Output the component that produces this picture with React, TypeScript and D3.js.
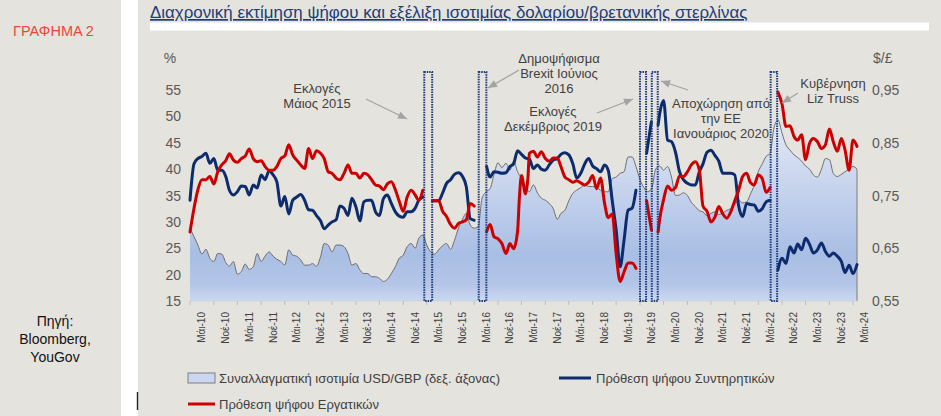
import * as d3 from "d3";

type Pt = [string, number | null];

// Πρόθεση ψήφου Συντηρητικών (%), null = break at an event box
const conservatives: Pt[] = [
  ["2010-05", 34.1], ["2010-06", 41], ["2010-07", 42], ["2010-08", 42.4], ["2010-09", 43], ["2010-10", 41.1], ["2010-11", 42], ["2010-12", 39.8],
  ["2011-01", 39.8], ["2011-02", 38.6], ["2011-03", 36], ["2011-04", 35.1], ["2011-05", 35.7], ["2011-06", 36.8], ["2011-07", 36.7], ["2011-08", 35.1], ["2011-09", 37], ["2011-10", 36.4], ["2011-11", 38.9], ["2011-12", 38],
  ["2012-01", 39.7], ["2012-02", 38.9], ["2012-03", 37.6], ["2012-04", 33], ["2012-05", 34.8], ["2012-06", 31.5], ["2012-07", 34.1], ["2012-08", 34.7], ["2012-09", 35.2], ["2012-10", 34.1], ["2012-11", 32.3], ["2012-12", 32.2],
  ["2013-01", 31.2], ["2013-02", 30.2], ["2013-03", 28.7], ["2013-04", 29.4], ["2013-05", 30], ["2013-06", 30.4], ["2013-07", 33], ["2013-08", 32.6], ["2013-09", 31.2], ["2013-10", 34.5], ["2013-11", 32.8], ["2013-12", 30.2],
  ["2014-01", 33.8], ["2014-02", 34.1], ["2014-03", 34.1], ["2014-04", 31.9], ["2014-05", 31.2], ["2014-06", 34.4], ["2014-07", 35.1], ["2014-08", 33.5], ["2014-09", 31.9], ["2014-10", 31.1], ["2014-11", 30.9], ["2014-12", 31.9],
  ["2015-01", 31.9], ["2015-02", 32.6], ["2015-03", 34.1], ["2015-04", 34.7], ["2015-05", null],
  ["2015-06-15", 34], ["2015-07", 34], ["2015-08", 34], ["2015-09", 35.5], ["2015-10", 37.3], ["2015-11", 38], ["2015-12", 39],
  ["2016-01", 39.3], ["2016-02", 38.6], ["2016-03", 36.7], ["2016-04", 30.6], ["2016-05", 30.3], ["2016-07", null],
  ["2016-08-05", 40.5], ["2016-09", 38.5], ["2016-10", 39.5], ["2016-11", 39.4], ["2016-12", 39.2],
  ["2017-01", 39.3], ["2017-02", 40.5], ["2017-03", 41], ["2017-04", 43.5], ["2017-05", 42.8], ["2017-06", 42.1], ["2017-07", 41.9], ["2017-08", 40.1], ["2017-09", 40.8], ["2017-10", 40], ["2017-11", 39.8], ["2017-12", 40.8],
  ["2018-01", 41.7], ["2018-02", 42], ["2018-03", 42.8], ["2018-04", 43.1], ["2018-05", 42.7], ["2018-06", 41], ["2018-07", 38.3], ["2018-08", 39.2], ["2018-09", 41], ["2018-10", 42], ["2018-11", 40.6], ["2018-12", 40.1],
  ["2019-01", 39.5], ["2019-02", 40.8], ["2019-03", 39.8], ["2019-04", 34], ["2019-05", 28.5], ["2019-06", 21.5], ["2019-07", 26.5], ["2019-08", 32.2], ["2019-09", 32.6], ["2019-10", 36], ["2019-11", null],
  ["2019-12-22", 43], ["2020-01-28", 49], ["2020-02", null],
  ["2020-03-20", 48.4], ["2020-04", 50.5], ["2020-05", 53], ["2020-06", 45.5], ["2020-07", 45.2], ["2020-08", 43.2], ["2020-09", 39.5], ["2020-10", 38], ["2020-11", 37.3], ["2020-12", 37],
  ["2021-01", 37], ["2021-02", 39.5], ["2021-03", 41], ["2021-04", 43.2], ["2021-05", 43.6], ["2021-06", 42.6], ["2021-07", 41.5], ["2021-08", 39.2], ["2021-09", 39.2], ["2021-10", 39.2], ["2021-11", 38.9], ["2021-12", 33],
  ["2022-01", 31], ["2022-02", 33.5], ["2022-03", 33.3], ["2022-04", 33.2], ["2022-05", 32], ["2022-06", 32.5], ["2022-07", 33.8], ["2022-08", 34.1], ["2022-09", null],
  ["2022-09-30", 20.9], ["2022-11", 23.1], ["2022-12", 22.1],
  ["2023-01", 25.3], ["2023-02", 24.1], ["2023-03", 25.8], ["2023-04", 24.7], ["2023-05", 26.9], ["2023-06", 25.7], ["2023-07", 24.1], ["2023-08", 24.7], ["2023-09", 26], ["2023-10", 24.4], ["2023-11", 23.5], ["2023-12", 24.1],
  ["2024-01", 23.5], ["2024-02", 22.5], ["2024-03", 20.4], ["2024-04", 21.8], ["2024-05", 20.2], ["2024-06", 21.9],
];

// Πρόθεση ψήφου Εργατικών (%)
const labour: Pt[] = [
  ["2010-05", 28.1], ["2010-06", 32.6], ["2010-07", 36.1], ["2010-08", 38], ["2010-09", 38], ["2010-10", 38.6], ["2010-11", 37.2], ["2010-12", 39.5],
  ["2011-01", 40.8], ["2011-02", 41.6], ["2011-03", 42.9], ["2011-04", 41.7], ["2011-05", 41.3], ["2011-06", 42], ["2011-07", 42.5], ["2011-08", 43.8], ["2011-09", 42], ["2011-10", 41.4], ["2011-11", 41.6], ["2011-12", 40.5],
  ["2012-01", 39.8], ["2012-02", 39.8], ["2012-03", 40.5], ["2012-04", 42], ["2012-05", 42.5], ["2012-06", 44.6], ["2012-07", 42.7], ["2012-08", 41.7], ["2012-09", 40.8], ["2012-10", 40.1], ["2012-11", 43.9], ["2012-12", 42],
  ["2013-01", 43.5], ["2013-02", 43], ["2013-03", 42], ["2013-04", 39.5], ["2013-05", 39.2], ["2013-06", 38.3], ["2013-07", 38], ["2013-08", 39.2], ["2013-09", 40.8], ["2013-10", 39.2], ["2013-11", 39.2], ["2013-12", 38.3],
  ["2014-01", 39.2], ["2014-02", 38.9], ["2014-03", 38], ["2014-04", 37], ["2014-05", 36.8], ["2014-06", 36.1], ["2014-07", 37.2], ["2014-08", 37.6], ["2014-09", 36.1], ["2014-10", 33.9], ["2014-11", 32], ["2014-12", 34.7],
  ["2015-01", 36], ["2015-02", 35.1], ["2015-03", 34.1], ["2015-04", 36], ["2015-05", null],
  ["2015-06-15", 34], ["2015-07", 34], ["2015-08", 34], ["2015-09", 32], ["2015-10", 31], ["2015-11", 29.5], ["2015-12", 28.8],
  ["2016-01", 29.7], ["2016-02", 30], ["2016-03", 30.4], ["2016-04", 33.5], ["2016-05", 33], ["2016-07", null],
  ["2016-08-05", 28.1], ["2016-09", 29.5], ["2016-10", 27.2], ["2016-11", 26.8], ["2016-12", 25.9],
  ["2017-01", 24], ["2017-02", 25.9], ["2017-03", 24.9], ["2017-04", 28.3], ["2017-04-15", 34.7], ["2017-05", 38.8], ["2017-06", 35.3], ["2017-06-20", 38.5], ["2017-07", 43], ["2017-08", 43.4], ["2017-09", 42.3], ["2017-10", 43.3], ["2017-11", 42], ["2017-12", 41.5],
  ["2018-01", 42.1], ["2018-02", 42.1], ["2018-03", 40.5], ["2018-04", 38.5], ["2018-05", 38], ["2018-06", 37.5], ["2018-07", 37.8], ["2018-08", 37.4], ["2018-09", 37], ["2018-10", 37.5], ["2018-11", 38.8], ["2018-12", 36.3],
  ["2019-01", 38.3], ["2019-02", 33.5], ["2019-03", 30.8], ["2019-04", 31.5], ["2019-05", 24], ["2019-06", 18.7], ["2019-07", 20.5], ["2019-08", 22.2], ["2019-09", 22.2], ["2019-10", 21.2], ["2019-11", null],
  ["2019-12-22", 34], ["2020-01-28", 28.5], ["2020-02", null],
  ["2020-03-20", 28.1], ["2020-04", 30.5], ["2020-05", 34.2], ["2020-06", 36.8], ["2020-07", 36], ["2020-08", 36.5], ["2020-09", 38.7], ["2020-10", 38.6], ["2020-11", 39.5], ["2020-12", 40.8],
  ["2021-01", 41.4], ["2021-02", 39.8], ["2021-03", 33], ["2021-04", 32], ["2021-05", 30], ["2021-06", 30.9], ["2021-07", 32.9], ["2021-08", 31.5], ["2021-09", 30.7], ["2021-10", 31.9], ["2021-11", 34], ["2021-12", 36],
  ["2022-01", 38.6], ["2022-02", 39.2], ["2022-03", 37.5], ["2022-04", 37], ["2022-05", 38.9], ["2022-06", 38.2], ["2022-07", 35.6], ["2022-08", 36.5], ["2022-09", null],
  ["2022-09-30", 54.6], ["2022-11", 52.3], ["2022-12", 48.1],
  ["2023-01", 48.2], ["2023-02", 46.2], ["2023-03", 45.5], ["2023-04", 46.5], ["2023-05", 41.8], ["2023-06", 44.9], ["2023-07", 45.8], ["2023-08", 45.2], ["2023-09", 43.9], ["2023-10", 44.6], ["2023-11", 47.6], ["2023-12", 45.2],
  ["2024-01", 43.4], ["2024-02", 45.8], ["2024-03", 43.6], ["2024-04", 39.8], ["2024-05", 45.5], ["2024-06", 44.3],
];

// Συναλλαγματική ισοτιμία USD/GBP (£ ανά $, δεξ. άξονας)
const usdGbp: Pt[] = [
  ["2010-05", 0.688], ["2010-06", 0.672], ["2010-07", 0.656], ["2010-08", 0.639], ["2010-09", 0.648], ["2010-10", 0.631], ["2010-11", 0.625], ["2010-12", 0.64],
  ["2011-01", 0.639], ["2011-02", 0.623], ["2011-03", 0.616], ["2011-04", 0.625], ["2011-05", 0.601], ["2011-06", 0.606], ["2011-07", 0.62], ["2011-08", 0.61], ["2011-09", 0.615], ["2011-10", 0.64], ["2011-11", 0.625], ["2011-12", 0.635],
  ["2012-01", 0.643], ["2012-02", 0.635], ["2012-03", 0.629], ["2012-04", 0.625], ["2012-05", 0.618], ["2012-06", 0.647], ["2012-07", 0.637], ["2012-08", 0.635], ["2012-09", 0.628], ["2012-10", 0.618], ["2012-11", 0.618], ["2012-12", 0.621],
  ["2013-01", 0.616], ["2013-02", 0.634], ["2013-03", 0.659], ["2013-04", 0.656], ["2013-05", 0.643], ["2013-06", 0.656], ["2013-07", 0.656], ["2013-08", 0.653], ["2013-09", 0.64], ["2013-10", 0.618], ["2013-11", 0.621], ["2013-12", 0.609],
  ["2014-01", 0.602], ["2014-02", 0.602], ["2014-03", 0.596], ["2014-04", 0.596], ["2014-05", 0.593], ["2014-06", 0.587], ["2014-07", 0.591], ["2014-08", 0.602], ["2014-09", 0.615], ["2014-10", 0.631], ["2014-11", 0.637], ["2014-12", 0.653],
  ["2015-01", 0.659], ["2015-02", 0.65], ["2015-03", 0.669], ["2015-04", 0.675], ["2015-05", 0.656], ["2015-06", 0.643], ["2015-07", 0.639], ["2015-08", 0.647], ["2015-09", 0.655], ["2015-10", 0.659], ["2015-11", 0.648], ["2015-12", 0.665],
  ["2016-01", 0.688], ["2016-02", 0.705], ["2016-03", 0.716], ["2016-04", 0.694], ["2016-05", 0.688], ["2016-06", 0.691], ["2016-07", 0.745], ["2016-08", 0.757], ["2016-09", 0.763], ["2016-10", 0.79], ["2016-11", 0.812], ["2016-12", 0.803],
  ["2017-01", 0.811], ["2017-02", 0.798], ["2017-03", 0.815], ["2017-04", 0.795], ["2017-05", 0.782], ["2017-06", 0.768], ["2017-07", 0.757], ["2017-08", 0.77], ["2017-09", 0.755], ["2017-10", 0.745], ["2017-11", 0.741], ["2017-12", 0.735],
  ["2018-01", 0.725], ["2018-02", 0.705], ["2018-03", 0.716], ["2018-04", 0.722], ["2018-05", 0.74], ["2018-06", 0.754], ["2018-07", 0.76], ["2018-08", 0.765], ["2018-09", 0.77], ["2018-10", 0.767], ["2018-11", 0.767], ["2018-12", 0.765],
  ["2019-01", 0.76], ["2019-02", 0.757], ["2019-03", 0.757], ["2019-04", 0.782], ["2019-05", 0.785], ["2019-06", 0.792], ["2019-07", 0.795], ["2019-08", 0.823], ["2019-09", 0.823], ["2019-10", 0.805], ["2019-11", 0.78], ["2019-12", 0.765],
  ["2020-01", 0.757], ["2020-02", 0.765], ["2020-03", 0.8], ["2020-04", 0.806], ["2020-05", 0.798], ["2020-06", 0.805], ["2020-07", 0.785], ["2020-08", 0.75], ["2020-09", 0.751], ["2020-10", 0.755], ["2020-11", 0.75], ["2020-12", 0.737],
  ["2021-01", 0.729], ["2021-02", 0.721], ["2021-03", 0.719], ["2021-04", 0.712], ["2021-05", 0.716], ["2021-06", 0.719], ["2021-07", 0.714], ["2021-08", 0.717], ["2021-09", 0.722], ["2021-10", 0.725], ["2021-11", 0.733], ["2021-12", 0.741],
  ["2022-01", 0.736], ["2022-02", 0.738], ["2022-03", 0.752], ["2022-04", 0.77], ["2022-05", 0.795], ["2022-06", 0.81], ["2022-07", 0.824], ["2022-08", 0.83], ["2022-09", 0.88], ["2022-10", 0.893], ["2022-11", 0.868], ["2022-12", 0.846],
  ["2023-01", 0.836], ["2023-02", 0.827], ["2023-03", 0.822], ["2023-04", 0.815], ["2023-05", 0.806], ["2023-06", 0.8], ["2023-07", 0.789], ["2023-08", 0.785], ["2023-09", 0.8], ["2023-10", 0.82], ["2023-11", 0.818], ["2023-12", 0.792],
  ["2024-01", 0.786], ["2024-02", 0.79], ["2024-03", 0.795], ["2024-04", 0.8], ["2024-05", 0.805], ["2024-06", 0.8],
];

// dotted event boxes: [from, to]
const eventBoxes: [string, string][] = [
  ["2015-04-12", "2015-06-12"],
  ["2016-06-05", "2016-08-03"],
  ["2019-11-01", "2019-12-18"],
  ["2020-01-31", "2020-03-17"],
  ["2022-08-05", "2022-09-24"],
];

const leftTicks = [15, 20, 25, 30, 35, 40, 45, 50, 55];
const rightTicks = [0.55, 0.65, 0.75, 0.85, 0.95];

const xTicks = [
  "2010-05", "2010-11", "2011-05", "2011-11", "2012-05", "2012-11", "2013-05", "2013-11", "2014-05", "2014-11",
  "2015-05", "2015-11", "2016-05", "2016-11", "2017-05", "2017-11", "2018-05", "2018-11", "2019-05", "2019-11",
  "2020-05", "2020-11", "2021-05", "2021-11", "2022-05", "2022-11", "2023-05", "2023-11", "2024-05",
];
const xTickLabels = [
  "Μάι-10", "Νοέ-10", "Μάι-11", "Νοέ-11", "Μάι-12", "Νοέ-12", "Μάι-13", "Νοέ-13", "Μάι-14", "Νοέ-14",
  "Μάι-15", "Νοέ-15", "Μάι-16", "Νοέ-16", "Μάι-17", "Νοέ-17", "Μάι-18", "Νοέ-18", "Μάι-19", "Νοέ-19",
  "Μάι-20", "Νοέ-20", "Μάι-21", "Νοέ-21", "Μάι-22", "Νοέ-22", "Μάι-23", "Νοέ-23", "Μάι-24",
];

// callouts: text block (centre x, first baseline) and arrow (from -> tip), in pixels
const notes = [
  { lines: ["Εκλογές", "Μάιος 2015"], x: 317, y: 93, from: [366, 99], to: [407, 119] },
  { lines: ["Δημοψήφισμα", "Brexit Ιούνιος", "2016"], x: 559, y: 63, from: [519, 70], to: [488, 88] },
  { lines: ["Εκλογές", "Δεκέμβριος 2019"], x: 553, y: 116, from: [597, 113], to: [633, 99] },
  { lines: ["Αποχώρηση από", "την ΕΕ", "Ιανουάριος 2020"], x: 721, y: 108, from: [688, 90], to: [661, 81] },
  { lines: ["Κυβέρνηση", "Liz Truss"], x: 833, y: 88, from: [798, 93], to: [782, 103] },
];

const FONT = "'Liberation Sans', Arial, Helvetica, sans-serif";
const BG = "#e5e3de";
const RED = "#cc0000";
const NAVY = "#0c2c6e";
const TEXT = "#404040";
const W = 941;
const H = 416;
const PLOT = { left: 190, right: 857, top: 72, bottom: 301, valueTop: 90 };

const parseMonth = d3.timeParse("%Y-%m");
const parseDay = d3.timeParse("%Y-%m-%d");
const parse = (s: string) => (s.length > 7 ? parseDay(s) : parseMonth(s)) as Date;

function arrowHead(from: number[], to: number[], len = 9, half = 3.8) {
  const dx = to[0] - from[0];
  const dy = to[1] - from[1];
  const d = Math.hypot(dx, dy);
  const ux = dx / d;
  const uy = dy / d;
  const bx = to[0] - ux * len;
  const by = to[1] - uy * len;
  return [
    [to[0], to[1]],
    [bx - uy * half, by + ux * half],
    [bx + uy * half, by - ux * half],
  ]
    .map((p) => p.join(","))
    .join(" ");
}

export default function App() {
  const x = d3.scaleTime().domain([parse("2010-05"), parse("2024-06")]).range([PLOT.left, PLOT.right]);
  const yL = d3.scaleLinear().domain([15, 55]).range([PLOT.bottom, PLOT.valueTop]);
  const yR = d3.scaleLinear().domain([0.55, 0.95]).range([PLOT.bottom, PLOT.valueTop]);

  const voteLine = d3
    .line<Pt>()
    .defined((d) => d[1] != null)
    .x((d) => x(parse(d[0])))
    .y((d) => yL(d[1] as number))
    .curve(d3.curveMonotoneX);

  const fxArea = d3
    .area<Pt>()
    .x((d) => x(parse(d[0])))
    .y0(PLOT.bottom)
    .y1((d) => yR(d[1] as number))
    .curve(d3.curveMonotoneX);

  const fxLine = d3
    .line<Pt>()
    .x((d) => x(parse(d[0])))
    .y((d) => yR(d[1] as number))
    .curve(d3.curveMonotoneX);

  const last = usdGbp[usdGbp.length - 1];
  const step = x(parse(xTicks[1])) - x(parse(xTicks[0]));
  const fmtR = (v: number) => v.toFixed(2).replace(".", ",");

  return (
    <div style={{ position: "absolute", left: 0, top: 0 }}>
      <svg width={W} height={H} viewBox={`0 0 ${W} ${H}`} style={{ display: "block", fontFamily: FONT }}>
        <defs>
          <linearGradient id="fxFill" gradientUnits="userSpaceOnUse" x1={0} y1={PLOT.top} x2={0} y2={PLOT.bottom}>
            <stop offset="0" stopColor="#f3f6fb" />
            <stop offset="0.3" stopColor="#dbe3f3" />
            <stop offset="0.55" stopColor="#c2d0ec" />
            <stop offset="0.8" stopColor="#a9bee4" />
            <stop offset="0.93" stopColor="#b4c6e8" />
            <stop offset="1" stopColor="#cbd8f0" />
          </linearGradient>
        </defs>

        <rect x={0} y={0} width={W} height={H} fill={BG} />
        <rect x={121} y={0} width={17} height={H} fill="#ffffff" />
        <line x1={137.5} x2={137.5} y1={392} y2={410} stroke="#222" strokeWidth={1.4} />

        {/* left panel */}
        <text x={13} y={36} fontSize={14.5} fill="#e8473a">
          ΓΡΑΦΗΜΑ 2
        </text>
        {["Πηγή:", "Bloomberg,", "YouGov"].map((s, i) => (
          <text key={s} x={55} y={326 + i * 18} fontSize={14} fill="#111" textAnchor="middle">
            {s}
          </text>
        ))}

        {/* title */}
        <rect x={150} y={22.5} width={779} height={8} fill="#ffffff" />
        <text x={150} y={18} fontSize={16.9} fill="#1f3b78" style={{ textDecoration: "underline" }}>
          Διαχρονική εκτίμηση ψήφου και εξέλιξη ισοτιμίας δολαρίου/βρετανικής στερλίνας
        </text>

        {/* axes labels */}
        <text x={170} y={58} dy="0.35em" fontSize={14} fill="#595959" textAnchor="middle">
          %
        </text>
        <text x={873} y={58} dy="0.35em" fontSize={14} fill="#595959">
          $/£
        </text>
        {leftTicks.map((t) => (
          <text key={t} x={181} y={yL(t)} dy="0.36em" fontSize={14} fill="#595959" textAnchor="end">
            {t}
          </text>
        ))}
        {rightTicks.map((t) => (
          <text key={t} x={872} y={yR(t)} dy="0.36em" fontSize={14} fill="#595959">
            {fmtR(t)}
          </text>
        ))}

        {/* exchange-rate area */}
        <path d={fxArea(usdGbp) ?? undefined} fill="url(#fxFill)" />
        <path d={fxLine(usdGbp) ?? undefined} fill="none" stroke="#6d6d6d" strokeWidth={1} />
        <line
          x1={x(parse(last[0]))}
          x2={x(parse(last[0]))}
          y1={yR(last[1] as number)}
          y2={PLOT.bottom}
          stroke="#8a8a8a"
          strokeWidth={1.2}
        />

        {/* x axis */}
        <line x1={PLOT.left} x2={PLOT.right} y1={PLOT.bottom} y2={PLOT.bottom} stroke="#cfd3da" strokeWidth={1} />
        {xTicks.map((t) => (
          <line key={t} x1={x(parse(t))} x2={x(parse(t))} y1={PLOT.bottom} y2={PLOT.bottom + 4} stroke="#bdbdbd" />
        ))}
        {xTicks.map((t, i) => {
          const cx = x(parse(t)) + step / 2;
          return (
            <text
              key={t}
              transform={`translate(${cx},312) rotate(-90)`}
              dy="0.35em"
              fontSize={10}
              fill={TEXT}
              textAnchor="end"
            >
              {xTickLabels[i]}
            </text>
          );
        })}

        {/* vote intention */}
        <path d={voteLine(conservatives) ?? undefined} fill="none" stroke={NAVY} strokeWidth={3} strokeLinejoin="round" strokeLinecap="round" />
        <path d={voteLine(labour) ?? undefined} fill="none" stroke={RED} strokeWidth={3} strokeLinejoin="round" strokeLinecap="round" />

        {/* event boxes */}
        {eventBoxes.map(([a, b]) => (
          <rect
            key={a}
            x={x(parse(a))}
            y={PLOT.top}
            width={x(parse(b)) - x(parse(a))}
            height={PLOT.bottom - PLOT.top}
            fill="none"
            stroke="#1f3a7a"
            strokeWidth={2}
            strokeDasharray="1.5 1"
          />
        ))}

        {/* callouts */}
        {notes.map((n, i) => (
          <g key={i}>
            {n.lines.map((s, j) => (
              <text key={j} x={n.x} y={n.y + j * 15} fontSize={13} fill={TEXT} textAnchor="middle">
                {s}
              </text>
            ))}
            <line x1={n.from[0]} y1={n.from[1]} x2={n.to[0]} y2={n.to[1]} stroke="#a3a3a3" strokeWidth={1.3} />
            <polygon points={arrowHead(n.from, n.to)} fill="#a3a3a3" />
          </g>
        ))}

        {/* legend */}
        <rect x={188} y={373} width={27} height={10} fill="#cbd7ef" stroke="#7f7f7f" strokeWidth={1} />
        <text x={219} y={378} dy="0.35em" fontSize={13} fill={TEXT}>
          Συναλλαγματική ισοτιμία USD/GBP (δεξ. άξονας)
        </text>
        <line x1={559} x2={591} y1={378} y2={378} stroke={NAVY} strokeWidth={3} />
        <text x={596} y={378} dy="0.35em" fontSize={13} fill={TEXT}>
          Πρόθεση ψήφου Συντηρητικών
        </text>
        <line x1={188} x2={215} y1={404} y2={404} stroke={RED} strokeWidth={3} />
        <text x={219} y={404} dy="0.35em" fontSize={13} fill={TEXT}>
          Πρόθεση ψήφου Εργατικών
        </text>
      </svg>
    </div>
  );
}
